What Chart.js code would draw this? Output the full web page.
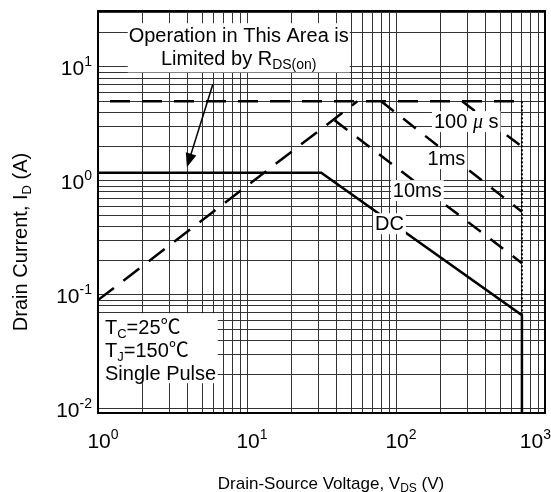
<!DOCTYPE html>
<html>
<head>
<meta charset="utf-8">
<script src="https://cdn.jsdelivr.net/npm/chart.js@4.4.0/dist/chart.umd.min.js"></script>
<style>
  html, body { margin: 0; padding: 0; background: #fff; }
  #wrap { width: 551px; height: 492px; }
</style>
</head>
<body>
<div id="wrap"><canvas id="soa"></canvas></div>
<script>
// axis ranges (log-log)
const xMin = 1, xMax = 1000;
const yMin = 0.0092, yMax = 31;
const xDecades = [1, 10, 100, 1000];
const yDecades = [0.01, 0.1, 1, 10];
const xExp = ['0', '1', '2', '3'];
const yExp = ['-2', '-1', '0', '1'];

// SOA boundaries, [V_DS, I_D]
const rdsLimit = [[1, 0.09], [55, 5]];
const idmLimit = [[1, 5], [700, 5]];
const line100us = [[278, 5], [700, 2.0]];
const line1ms = [[79.5, 5], [700, 0.536]];
const line10ms = [[38.7, 3.41], [700, 0.19]];
const lineDC = [[1, 1.18], [31.5, 1.18], [700, 0.0664], [700, yMin]];
const vdssLimit = [[700, 5], [700, 0.0664]];

// where the notes sit, in data units
const curveLabels = [
  { name: '100us', at: [296, 3.35] },
  { name: '1ms', at: [218, 1.585] },
  { name: '10ms', at: [139, 0.83] },
  { name: 'DC', at: [90.3, 0.426] }
];
const noteLine1At = [8.8, 19.0];
const noteLine2At = [8.8, 11.9];
const arrowFrom = [5.9, 7.06];
const arrowTo = [3.95, 1.32];
const condLinesY = [0.0524, 0.0327, 0.0206];
const condBox = { right: 6.36, top: 0.069, bottom: 0.0168 };

const FONT = "'Liberation Sans', Arial, 'Noto Sans CJK SC', sans-serif";

function gridValues(decades, lo, hi) {
  const out = [];
  decades.forEach(d => {
    for (let m = 1; m <= 9; m++) {
      const v = +(d * m).toPrecision(3);
      if (v >= lo && v <= hi) out.push(v);
    }
  });
  return out;
}
const xGrid = gridValues(xDecades, xMin, xMax);
const yGrid = gridValues(yDecades, yMin, yMax);

const toPts = arr => arr.map(p => ({ x: p[0], y: p[1] }));
function series(data, width, dash, offset) {
  return {
    data: toPts(data), showLine: true, borderColor: '#000', borderWidth: width,
    borderDash: dash || [], borderDashOffset: offset || 0,
    pointRadius: 0, fill: false, tension: 0
  };
}

// draws text made of runs: [text, size, dy, style, family]
function drawRuns(ctx, parts, x, y, align) {
  let w = 0;
  const fonts = parts.map(p => (p[3] || '') + ' ' + p[1] + 'px ' + (p[4] || FONT));
  parts.forEach((p, i) => { ctx.font = fonts[i]; w += ctx.measureText(p[0]).width; });
  let cx = align === 'center' ? x - w / 2 : align === 'right' ? x - w : x;
  const start = cx;
  ctx.textAlign = 'left';
  ctx.textBaseline = 'alphabetic';
  parts.forEach((p, i) => {
    ctx.font = fonts[i];
    ctx.fillText(p[0], cx, y + (p[2] || 0));
    cx += ctx.measureText(p[0]).width;
  });
  return { left: start, width: w };
}

function labelRuns(name) {
  if (name === '100us') return [['100', 20], [' ', 20], ['\u03bc', 20, 0, 'italic', "'Liberation Serif', serif"], [' s', 20]];
  return [[name, 20]];
}

const decorPlugin = {
  id: 'decor',
  afterDraw(chart) {
    const ctx = chart.ctx;
    const area = chart.chartArea;
    const xs = chart.scales.x, ys = chart.scales.y;
    const px = v => xs.getPixelForValue(v);
    const py = v => ys.getPixelForValue(v);
    ctx.save();
    ctx.fillStyle = '#000';

    // curve labels with white background
    curveLabels.forEach(l => {
      const cx = px(l.at[0]), cy = py(l.at[1]);
      const parts = labelRuns(l.name);
      ctx.globalAlpha = 0;
      const m = drawRuns(ctx, parts, cx, cy + 7, 'center');
      ctx.globalAlpha = 1;
      ctx.fillStyle = '#fff';
      ctx.fillRect(m.left - 2, cy - 10, m.width + 4, 21);
      ctx.fillStyle = '#000';
      drawRuns(ctx, parts, cx, cy + 7, 'center');
    });

    // R_DS(on) note
    const nx = px(noteLine1At[0]);
    const n1 = py(noteLine1At[1]), n2 = py(noteLine2At[1]);
    const l1 = [['Operation in This Area is', 20]];
    const l2 = [['Limited by R', 20], ['DS(on)', 14, 4]];
    ctx.globalAlpha = 0;
    const m1 = drawRuns(ctx, l1, nx, n1 + 7, 'center');
    ctx.globalAlpha = 1;
    ctx.fillStyle = '#fff';
    ctx.fillRect(m1.left - 1, n1 - 12, m1.width + 2, n2 - n1 + 26);
    ctx.fillStyle = '#000';
    drawRuns(ctx, l1, nx, n1 + 7, 'center');
    drawRuns(ctx, l2, nx, n2 + 7, 'center');

    // arrow
    const ax0 = px(arrowFrom[0]), ay0 = py(arrowFrom[1]);
    const ax1 = px(arrowTo[0]), ay1 = py(arrowTo[1]);
    const ang = Math.atan2(ay1 - ay0, ax1 - ax0);
    ctx.strokeStyle = '#000';
    ctx.lineWidth = 1.5;
    ctx.beginPath();
    ctx.moveTo(ax0, ay0);
    ctx.lineTo(ax1 - 10 * Math.cos(ang), ay1 - 10 * Math.sin(ang));
    ctx.stroke();
    ctx.beginPath();
    ctx.moveTo(ax1, ay1);
    ctx.lineTo(ax1 - 14 * Math.cos(ang) + 5.5 * Math.sin(ang), ay1 - 14 * Math.sin(ang) - 5.5 * Math.cos(ang));
    ctx.lineTo(ax1 - 14 * Math.cos(ang) - 5.5 * Math.sin(ang), ay1 - 14 * Math.sin(ang) + 5.5 * Math.cos(ang));
    ctx.closePath();
    ctx.fill();

    // test conditions box
    ctx.fillStyle = '#fff';
    const bTop = py(condBox.top), bBot = py(condBox.bottom);
    ctx.fillRect(area.left, bTop, px(condBox.right) - area.left, bBot - bTop);
    ctx.fillStyle = '#000';
    const tx = area.left + 7;
    drawRuns(ctx, [['T', 20], ['C', 13, 4], ['=25\u2103', 20]], tx, py(condLinesY[0]) + 7, 'left');
    drawRuns(ctx, [['T', 20], ['J', 13, 4], ['=150\u2103', 20]], tx, py(condLinesY[1]) + 7, 'left');
    drawRuns(ctx, [['Single Pulse', 20]], tx, py(condLinesY[2]) + 7, 'left');

    // frame
    ctx.lineWidth = 2;
    ctx.strokeRect(area.left, area.top, area.right - area.left, area.bottom - area.top);

    // tick labels with exponents
    xDecades.forEach((v, i) => {
      const parts = [['10', 21], [xExp[i], 14, -9]];
      let cx = px(v) + 5;
      ctx.globalAlpha = 0;
      const m = drawRuns(ctx, parts, cx, 448, 'center');
      ctx.globalAlpha = 1;
      if (m.left + m.width > chart.width) cx -= m.left + m.width - chart.width;
      drawRuns(ctx, parts, cx, 448, 'center');
    });
    yDecades.forEach((v, i) => {
      drawRuns(ctx, [['10', 21], [yExp[i], 14, -9]], 92, py(v) + 8, 'right');
    });

    // axis titles
    drawRuns(ctx, [['Drain-Source Voltage, V', 17], ['DS', 12, 3], [' (V)', 17]], 331, 489, 'center');
    ctx.translate(27, 242);
    ctx.rotate(-Math.PI / 2);
    drawRuns(ctx, [['Drain Current, I', 20], ['D', 13, 4], [' (A)', 20]], 0, 0, 'center');
    ctx.restore();
  }
};

new Chart(document.getElementById('soa'), {
  type: 'scatter',
  data: {
    datasets: [
      series(idmLimit, 2.5, [20, 12], 20),
      series(rdsLimit, 2.5, [20, 12]),
      series(line100us, 2.5, [16, 12]),
      series(line1ms, 2.5, [16, 12]),
      series(line10ms, 2.5, [16, 12]),
      series(vdssLimit, 2, [2, 2]),
      series(lineDC, 2.5)
    ]
  },
  options: {
    responsive: true,
    maintainAspectRatio: false,
    animation: false,
    layout: { padding: { left: 98, right: 6, top: 11, bottom: 79 } },
    plugins: { legend: { display: false }, tooltip: { enabled: false } },
    scales: {
      x: {
        type: 'logarithmic', min: xMin, max: xMax,
        afterBuildTicks: s => { s.ticks = xGrid.map(v => ({ value: v })); },
        ticks: { display: false },
        grid: { color: '#333', lineWidth: 1, drawTicks: false },
        border: { display: false }
      },
      y: {
        type: 'logarithmic', min: yMin, max: yMax,
        afterBuildTicks: s => { s.ticks = yGrid.map(v => ({ value: v })); },
        ticks: { display: false },
        grid: { color: '#333', lineWidth: 1, drawTicks: false },
        border: { display: false }
      }
    }
  },
  plugins: [decorPlugin]
});
</script>
</body>
</html>
